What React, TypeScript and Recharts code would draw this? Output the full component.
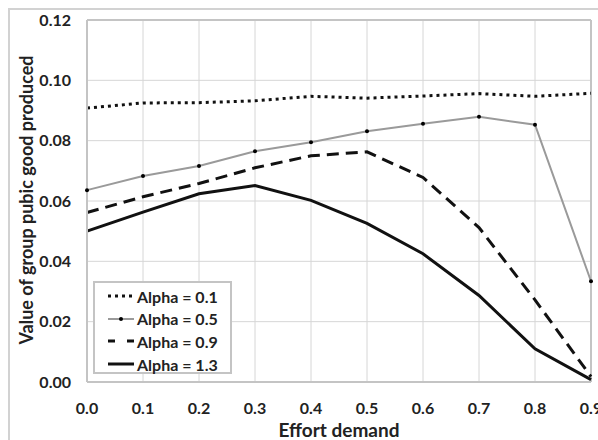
import React from 'react'
import {
  LineChart,
  Line,
  XAxis,
  YAxis,
  CartesianGrid,
  Legend,
  ReferenceLine
} from 'recharts'

const effort = [0, 0.1, 0.2, 0.3, 0.4, 0.5, 0.6, 0.7, 0.8, 0.9]
const alpha01 = [0.0908, 0.0925, 0.0926, 0.0932, 0.0947, 0.0941, 0.0948, 0.0956, 0.0947, 0.0957]
const alpha05 = [0.0636, 0.0683, 0.0716, 0.0765, 0.0795, 0.0831, 0.0856, 0.0879, 0.0853, 0.0334]
const alpha09 = [0.0562, 0.0614, 0.0658, 0.0710, 0.0750, 0.0763, 0.0678, 0.0512, 0.0272, 0.0018]
const alpha13 = [0.0500, 0.0563, 0.0624, 0.0651, 0.0602, 0.0526, 0.0425, 0.0287, 0.0110, 0.0008]

const xTicks = [0, 0.1, 0.2, 0.3, 0.4, 0.5, 0.6, 0.7, 0.8, 0.9]
const yTicks = [0, 0.02, 0.04, 0.06, 0.08, 0.1, 0.12]

const series = [
  { key: 'a01', name: 'Alpha = 0.1', color: '#111', width: 3, dash: '3 4', dot: false },
  { key: 'a05', name: 'Alpha = 0.5', color: '#9a9a9a', width: 2, dash: undefined, dot: true },
  { key: 'a09', name: 'Alpha = 0.9', color: '#111', width: 3, dash: '12 7', dot: false },
  { key: 'a13', name: 'Alpha = 1.3', color: '#111', width: 3, dash: undefined, dot: false }
]

const data = effort.map((e, i) => ({
  effort: e,
  a01: alpha01[i],
  a05: alpha05[i],
  a09: alpha09[i],
  a13: alpha13[i]
}))

const font = 'Lato, "Open Sans", sans-serif'
const tickStyle = { fontSize: 16, fontWeight: 700, fill: '#222', fontFamily: font }

const LegendBox = () => (
  <div
    style={{
      border: '2px solid #c4c4c4',
      background: '#fff',
      width: 139,
      height: 93,
      boxSizing: 'border-box',
      padding: '2px 0 0 12px',
      fontFamily: font
    }}
  >
    {series.map((s) => (
      <div key={s.key} style={{ display: 'flex', alignItems: 'center', height: 22.6 }}>
        <svg width={28} height={10} style={{ marginRight: 2 }}>
          <line
            x1={1}
            y1={5}
            x2={27}
            y2={5}
            stroke={s.color}
            strokeWidth={s.width}
            strokeDasharray={s.key === 'a09' ? '7 12' : s.dash}
          />
          {s.dot && <circle cx={14} cy={5} r={2} fill="#000" />}
        </svg>
        <span style={{ fontSize: 16, fontWeight: 700, color: '#222' }}>{s.name}</span>
      </div>
    ))}
  </div>
)

export default function App() {
  return (
    <div style={{ position: 'absolute', left: 0, top: 0, width: 598, height: 440, overflow: 'hidden', background: '#fff' }}>
      <div
        style={{
          position: 'absolute',
          left: 8,
          top: 8,
          width: 620,
          height: 460,
          border: '2px solid #d2d2d2'
        }}
      />
      <div style={{ position: 'absolute', left: 0, top: 0 }}>
        <LineChart width={598} height={440} data={data} margin={{ top: 20, right: 7, bottom: 0, left: 0 }}>
          <CartesianGrid stroke="#d6d6d6" strokeWidth={1} syncWithTicks />
          <XAxis
            dataKey="effort"
            type="number"
            domain={[0, 0.9]}
            ticks={xTicks}
            tickFormatter={(v: number) => v.toFixed(1)}
            height={58}
            tick={tickStyle}
            tickLine={false}
            tickSize={0}
            tickMargin={21}
            axisLine={{ stroke: '#c4c4c4', strokeWidth: 2 }}
            interval={0}
            label={{
              content: () => (
                <text x={339} y={437} textAnchor="middle" style={{ fontSize: 19, fontWeight: 700, fill: '#222', fontFamily: font }}>
                  Effort demand
                </text>
              )
            }}
          />
          <YAxis
            type="number"
            domain={[0, 0.12]}
            ticks={yTicks}
            tickFormatter={(v: number) => v.toFixed(2)}
            width={87}
            tick={tickStyle}
            tickLine={false}
            tickSize={0}
            tickMargin={16}
            axisLine={{ stroke: '#c4c4c4', strokeWidth: 2 }}
            interval={0}
            label={{
              content: () => (
                <text
                  x={33}
                  y={200}
                  textAnchor="middle"
                  transform="rotate(-90 33 200)"
                  style={{ fontSize: 18, fontWeight: 700, fill: '#222', fontFamily: font }}
                >
                  Value of group pubic good produced
                </text>
              )
            }}
          />
          <ReferenceLine x={0.9} stroke="#c4c4c4" strokeWidth={2} />
          <ReferenceLine y={0.12} stroke="#c4c4c4" strokeWidth={2} />
          {series.map((s) => (
            <Line
              key={s.key}
              type="linear"
              dataKey={s.key}
              name={s.name}
              stroke={s.color}
              strokeWidth={s.width}
              strokeDasharray={s.dash}
              dot={s.dot ? { r: 2, fill: '#000', stroke: '#000', strokeWidth: 0 } : false}
              activeDot={false}
              isAnimationActive={false}
            />
          ))}
          <Legend
            layout="vertical"
            align="center"
            verticalAlign="middle"
            content={() => <LegendBox />}
            wrapperStyle={{ left: 93, top: 281, width: 140, height: 94 }}
          />
        </LineChart>
      </div>
    </div>
  )
}
